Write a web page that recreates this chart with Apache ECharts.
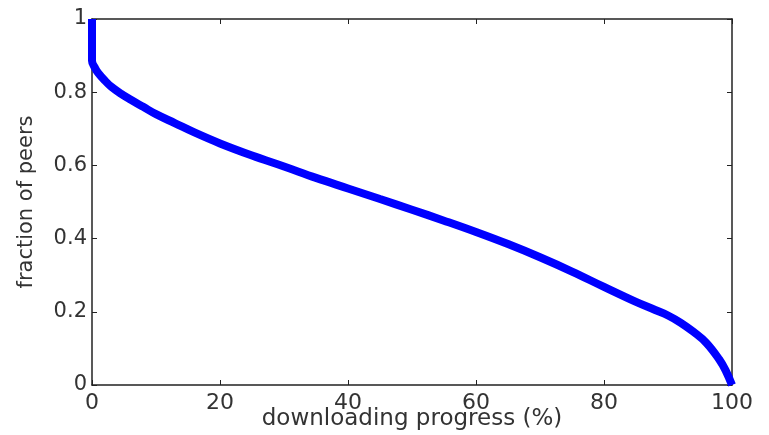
<!DOCTYPE html>
<html>
<head>
<meta charset="utf-8">
<script src="https://cdn.jsdelivr.net/npm/echarts@6/dist/echarts.min.js"></script>
<style>
  html, body { margin: 0; padding: 0; background: #fff; }
  #chart { width: 769px; height: 435px; }
</style>
</head>
<body>
<div id="chart"></div>
<script>
// downloading progress (%) -> fraction of peers
const progress = [0, 0, 0.5, 1, 2, 3, 4.5, 6, 8, 10, 13, 16, 20, 25, 30, 35, 40, 45, 50, 55, 60, 65, 70, 75, 80, 85, 88, 90, 92, 94, 96, 98, 99, 100]
const fraction = [1, 0.886, 0.865, 0.852, 0.832, 0.815, 0.796, 0.78, 0.76, 0.74, 0.715, 0.69, 0.66, 0.627, 0.597, 0.566, 0.537, 0.508, 0.479, 0.449, 0.418, 0.385, 0.349, 0.31, 0.268, 0.227, 0.205, 0.19, 0.17, 0.145, 0.115, 0.07, 0.04, 0]

const xTicks = [0, 20, 40, 60, 80, 100]
const yTicks = [0, 0.2, 0.4, 0.6, 0.8, 1]

const chart = echarts.init(document.getElementById('chart'))

const axisColor = '#222'
const labelStyle = {
  color: '#333',
  fontSize: 21,
  fontFamily: 'DejaVu Sans, Liberation Sans, sans-serif'
}

// box axes (top/right) only carry inward ticks
function boxAxis(pos, isX) {
  return {
    type: 'value',
    position: pos,
    min: 0,
    max: isX ? 100 : 1,
    interval: isX ? 20 : 0.2,
    axisLine: { show: true, onZero: false, lineStyle: { color: axisColor, width: 1.5 } },
    axisTick: { show: true, inside: true, length: 5, lineStyle: { color: axisColor } },
    axisLabel: { show: false },
    splitLine: { show: false }
  }
}

let data = []
for (let i = 0; i < progress.length; i++) {
  data.push([progress[i], fraction[i]])
}

chart.setOption({
  animation: false,
  grid: { left: 92, right: 37, top: 19, bottom: 50, outerBoundsMode: 'none' },
  xAxis: [
    {
      type: 'value',
      position: 'bottom',
      min: xTicks[0],
      max: xTicks[xTicks.length - 1],
      interval: 20,
      name: 'downloading progress (%)',
      nameLocation: 'middle',
      nameGap: 23,
      nameMoveOverlap: false,
      nameTextStyle: Object.assign({}, labelStyle, { fontSize: 23 }),
      axisLine: { show: true, onZero: false, lineStyle: { color: axisColor, width: 1.5 } },
      axisTick: { show: true, inside: true, length: 5, lineStyle: { color: axisColor } },
      axisLabel: Object.assign({}, labelStyle, { margin: 7, fontSize: 22 }),
      splitLine: { show: false }
    },
    boxAxis('top', true)
  ],
  yAxis: [
    {
      type: 'value',
      position: 'left',
      min: yTicks[0],
      max: yTicks[yTicks.length - 1],
      interval: 0.2,
      name: 'fraction of peers',
      nameLocation: 'middle',
      nameGap: 55,
      nameMoveOverlap: false,
      nameTextStyle: labelStyle,
      axisLine: { show: true, onZero: false, lineStyle: { color: axisColor, width: 1.5 } },
      axisTick: { show: true, inside: true, length: 5, lineStyle: { color: axisColor } },
      axisLabel: Object.assign({ margin: 5 }, labelStyle),
      splitLine: { show: false }
    },
    boxAxis('right', false)
  ],
  series: [
    {
      type: 'line',
      data: data,
      showSymbol: false,
      smooth: 0.4,
      clip: false,
      lineStyle: { color: '#0000ff', width: 8 },
      itemStyle: { color: '#0000ff' }
    }
  ]
})
</script>
</body>
</html>
